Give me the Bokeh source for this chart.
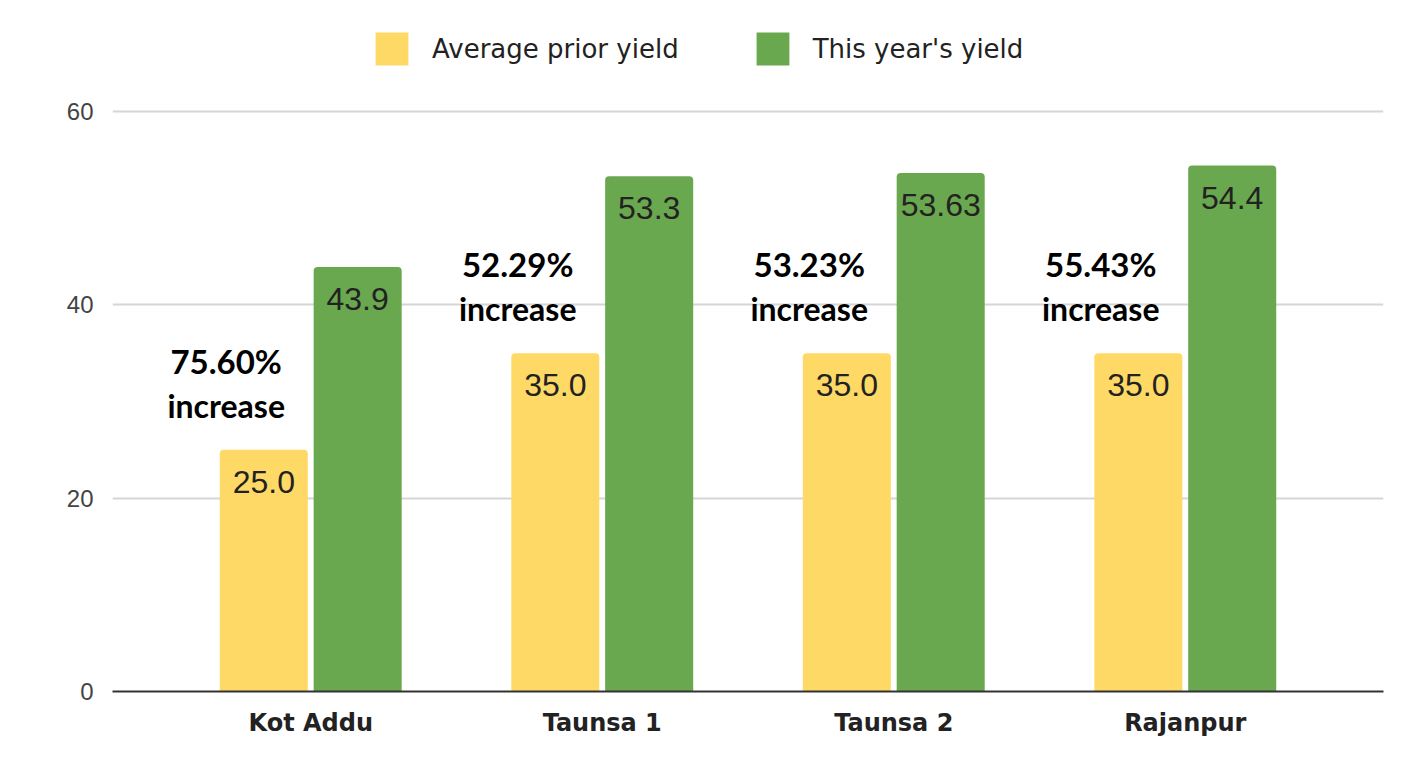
from bokeh.plotting import figure
from bokeh.models import ColumnDataSource, FactorRange, Range1d, FixedTicker, Legend, LegendItem
from bokeh.transform import dodge
from bokeh.core.properties import value
from bokeh.embed import file_html
from bokeh.resources import INLINE

# ---- data ----
sites = ["Kot Addu", "Taunsa 1", "Taunsa 2", "Rajanpur"]
prior_yield = [25.0, 35.0, 35.0, 35.0]
this_year_yield = [43.9, 53.3, 53.63, 54.4]
prior_labels = ["25.0", "35.0", "35.0", "35.0"]
this_year_labels = ["43.9", "53.3", "53.63", "54.4"]
increase_pct = ["75.60%", "52.29%", "53.23%", "55.43%"]
y_ticks = [0, 20, 40, 60]

YELLOW = "#FFD966"
GREEN = "#6AA84F"

src = ColumnDataSource(dict(
    site=sites,
    prior=prior_yield,
    now=this_year_yield,
    prior_lbl=prior_labels,
    now_lbl=this_year_labels,
    pct=increase_pct,
    inc=["increase"] * len(sites),
    ann_top=[v + 9.2 for v in prior_yield],
    ann_bot=[v + 4.6 for v in prior_yield],
))

x_range = FactorRange(factors=sites, range_padding=0.18, range_padding_units="absolute")
p = figure(width=1404, height=762, x_range=x_range, y_range=Range1d(0, 69.41),
           output_backend="svg", toolbar_location=None,
           min_border_left=112, min_border_right=21, min_border_top=20, min_border_bottom=71)
p.outline_line_color = None
p.background_fill_color = "white"
p.border_fill_color = "white"

BW = 0.302
OFF = 0.161
r1 = p.vbar(x=dodge("site", -OFF, range=p.x_range), top="prior", width=BW, source=src,
            fill_color=YELLOW, line_color=None, border_radius=(4, 4, 0, 0))
r2 = p.vbar(x=dodge("site", OFF, range=p.x_range), top="now", width=BW, source=src,
            fill_color=GREEN, line_color=None, border_radius=(4, 4, 0, 0))

# value labels inside bars
for col, off in (("prior_lbl", -OFF), ("now_lbl", OFF)):
    top = "prior" if col == "prior_lbl" else "now"
    p.text(x=dodge("site", off, range=p.x_range), y=top, text=col, source=src,
           text_align="center", text_baseline="top", y_offset=21,
           text_font=value("Liberation Sans"), text_font_size="32px", text_color="#222222")

# increase annotations
p.text(x=dodge("site", -0.29, range=p.x_range), y="ann_top", text="pct", source=src,
       text_align="center", text_baseline="middle",
       text_font=value("Lato"), text_font_style="bold", text_font_size="33px", text_color="#000000")
p.text(x=dodge("site", -0.29, range=p.x_range), y="ann_bot", text="inc", source=src,
       text_align="center", text_baseline="middle",
       text_font=value("Lato"), text_font_style="bold", text_font_size="32px", text_color="#000000")

# axes
p.yaxis.ticker = FixedTicker(ticks=y_ticks)
p.yaxis.axis_line_color = None
p.yaxis.major_tick_line_color = None
p.yaxis.minor_tick_line_color = None
p.yaxis.major_label_standoff = 13
p.yaxis.major_label_text_font = "Liberation Sans"
p.yaxis.major_label_text_font_size = "24px"
p.yaxis.major_label_text_color = "#444444"

p.xaxis.axis_line_color = "#333333"
p.xaxis.axis_line_width = 2
p.xaxis.major_tick_line_color = None
p.xaxis.minor_tick_line_color = None
p.xaxis.major_label_standoff = 11
p.xaxis.major_label_text_font = "DejaVu Sans"
p.xaxis.major_label_text_font_style = "bold"
p.xaxis.major_label_text_font_size = "24px"
p.xaxis.major_label_text_color = "#222222"

p.xgrid.grid_line_color = None
p.ygrid.grid_line_color = "#d6d6d6"
p.ygrid.grid_line_width = 2

legend = Legend(items=[LegendItem(label="Average prior yield", renderers=[r1]),
                       LegendItem(label="This year's yield", renderers=[r2])],
                location=(259, 622), orientation="horizontal",
                glyph_width=41, glyph_height=41, label_standoff=20, spacing=73,
                padding=0, margin=0, border_line_color=None, background_fill_alpha=0,
                label_text_font="DejaVu Sans", label_text_font_size="26px",
                label_text_color="#222222")
p.add_layout(legend, "center")

open("out.html", "w").write(file_html(p, INLINE))
